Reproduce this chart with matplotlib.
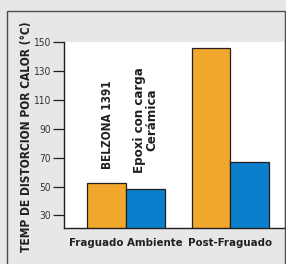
import numpy as np
import matplotlib
matplotlib.use("Agg")
import matplotlib.pyplot as plt
from matplotlib.patches import Rectangle

groups = ["Fraguado Ambiente", "Post-Fraguado"]
belzona = [52.5, 146.0]
epoxi = [48.0, 67.0]
yticks = [30, 50, 70, 90, 110, 130, 150]

orange = "#f0a72b"
blue = "#0a80cc"
bg = "#e6e7e8"
dark = "#231f20"

fig = plt.figure(figsize=(2.86, 2.64), dpi=100, facecolor=bg)
ax = fig.add_axes([64/286, 36/264, 220/286, 186/264])

x = np.arange(len(groups))
w = 0.37
ax.bar(x - w/2, belzona, w, color=orange, edgecolor=dark, linewidth=0.9, zorder=2)
ax.bar(x + w/2, epoxi, w, color=blue, edgecolor=dark, linewidth=0.9, zorder=2)

ax.set_xlim(-0.594, 1.515)
ax.set_ylim(21.3, 150)
ax.set_yticks(yticks)
ax.set_yticklabels([str(v) for v in yticks], fontsize=7.3, color="#333333",
                   family="DejaVu Sans", fontstretch="condensed")
ax.tick_params(axis="y", length=8, width=0.9, pad=1.2, color=dark)
ax.set_xticks(x)
ax.set_xticklabels(groups, fontsize=8.2, fontweight="bold", color=dark,
                   family="DejaVu Sans", fontstretch="condensed")
ax.tick_params(axis="x", length=0, pad=7)

for s in ["top", "right"]:
    ax.spines[s].set_visible(False)
for s in ["left", "bottom"]:
    ax.spines[s].set_color(dark)
    ax.spines[s].set_linewidth(1.0)

ax.text(-0.173, 62, "BELZONA 1391", rotation=90, ha="center", va="bottom",
        fontsize=8.5, fontweight="bold", color=dark, family="DejaVu Sans",
        fontstretch="condensed")
ax.text(0.19, 59.5, "Epoxi con carga\nCerámica", rotation=90, ha="center", va="bottom",
        multialignment="center", fontsize=9.5, fontweight="bold", color=dark,
        family="DejaVu Sans", fontstretch="condensed", linespacing=0.9)

fig.text(26.5/286, 1 - 137/264, "TEMP DE DISTORCION POR CALOR (°C)", rotation=90,
         ha="center", va="center", fontsize=8.6, fontweight="bold", color=dark,
         family="DejaVu Sans", fontstretch="condensed")

# outer frame
fig.add_artist(Rectangle((6.5/286, -0.05), 278.5/286, 1.05 - 11/264, fill=False,
                         edgecolor="#4d4d4f", linewidth=1.0, transform=fig.transFigure))

fig.savefig("out.png", dpi=100, facecolor=bg)
